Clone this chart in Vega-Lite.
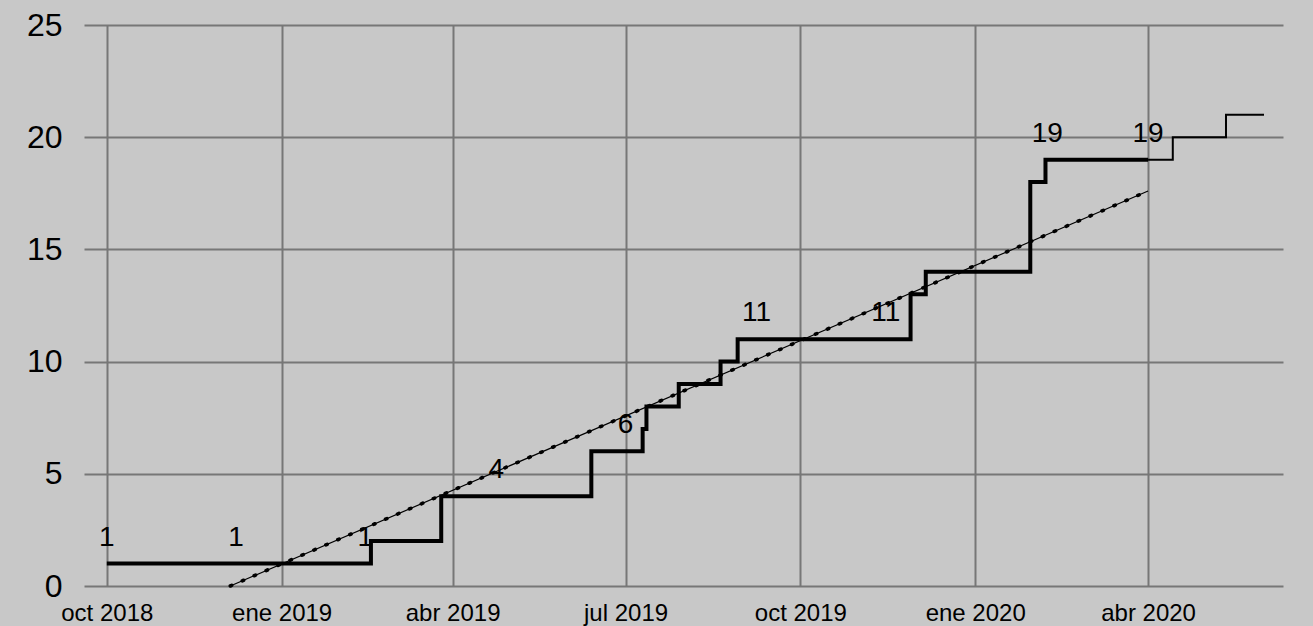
{
  "$schema": "https://vega.github.io/schema/vega-lite/v6.json",
  "width": 1199,
  "height": 561,
  "autosize": {"type": "none"},
  "padding": {"left": 84, "top": 25, "right": 30, "bottom": 40},
  "background": "#c8c8c8",
  "config": {
    "view": {"stroke": null},
    "font": "Liberation Sans",
    "axis": {"gridColor": "#777777", "gridWidth": 2, "gridOpacity": 1, "domain": false, "ticks": false, "title": null, "labelColor": "#000000", "labelFont": "Liberation Sans"}
  },
  "datasets": {
    "main": [
      {"date": "2018-10-01", "v": 1},
      {"date": "2019-02-17", "v": 2},
      {"date": "2019-03-26", "v": 4},
      {"date": "2019-06-13", "v": 6},
      {"date": "2019-07-10", "v": 7},
      {"date": "2019-07-12", "v": 8},
      {"date": "2019-07-29", "v": 9},
      {"date": "2019-08-20", "v": 10},
      {"date": "2019-08-29", "v": 11},
      {"date": "2019-11-28", "v": 13},
      {"date": "2019-12-06", "v": 14},
      {"date": "2020-01-30", "v": 18},
      {"date": "2020-02-07", "v": 19},
      {"date": "2020-04-01", "v": 19}
    ],
    "ext": [
      {"date": "2020-04-01", "v": 19},
      {"date": "2020-04-14", "v": 20},
      {"date": "2020-05-12", "v": 21},
      {"date": "2020-06-01", "v": 21}
    ],
    "trend": [
      {"date": "2018-12-05", "v": 0},
      {"date": "2020-04-01", "v": 17.6}
    ],
    "labels": [
      {"date": "2018-10-01", "v": 1},
      {"date": "2018-12-08", "v": 1},
      {"date": "2019-02-14", "v": 1},
      {"date": "2019-04-24", "v": 4},
      {"date": "2019-07-01", "v": 6},
      {"date": "2019-09-08", "v": 11},
      {"date": "2019-11-15", "v": 11},
      {"date": "2020-02-08", "v": 19},
      {"date": "2020-04-01", "v": 19}
    ]
  },
  "encoding": {
    "x": {
      "field": "date",
      "type": "temporal",
      "scale": {"type": "utc", "domain": [{"year": 2018, "month": 9, "date": 19, "utc": true}, {"year": 2020, "month": 6, "date": 11, "utc": true}]},
      "axis": {
        "values": [
          {"year": 2018, "month": 10, "date": 1, "utc": true},
          {"year": 2019, "month": 1, "date": 1, "utc": true},
          {"year": 2019, "month": 4, "date": 1, "utc": true},
          {"year": 2019, "month": 7, "date": 1, "utc": true},
          {"year": 2019, "month": 10, "date": 1, "utc": true},
          {"year": 2020, "month": 1, "date": 1, "utc": true},
          {"year": 2020, "month": 4, "date": 1, "utc": true}
        ],
        "labelExpr": "['ene','feb','mar','abr','may','jun','jul','ago','sep','oct','nov','dic'][utcmonth(datum.value)] + ' ' + utcyear(datum.value)",
        "labelFontSize": 24,
        "labelPadding": 15,
        "labelFlush": false,
        "labelOverlap": false,
        "grid": true
      }
    },
    "y": {
      "field": "v",
      "type": "quantitative",
      "scale": {"domain": [0, 25], "nice": false, "zero": true},
      "axis": {"values": [0, 5, 10, 15, 20, 25], "labelFontSize": 32, "labelPadding": 22, "grid": true}
    }
  },
  "layer": [
    {"data": {"name": "trend"}, "mark": {"type": "line", "color": "#000000", "strokeWidth": 1.2}},
    {"data": {"name": "trend"}, "mark": {"type": "line", "color": "#000000", "strokeWidth": 3.6, "strokeDash": [1.5, 11.5], "strokeCap": "round"}},
    {"data": {"name": "ext"}, "mark": {"type": "line", "color": "#000000", "strokeWidth": 2, "interpolate": "step-after"}},
    {"data": {"name": "main"}, "mark": {"type": "line", "color": "#000000", "strokeWidth": 4, "interpolate": "step-after"}},
    {"data": {"name": "labels"}, "mark": {"type": "text", "color": "#000000", "fontSize": 28, "dy": -26, "baseline": "middle", "align": "center", "font": "Liberation Sans"}, "encoding": {"text": {"field": "v", "type": "quantitative"}}}
  ]
}
